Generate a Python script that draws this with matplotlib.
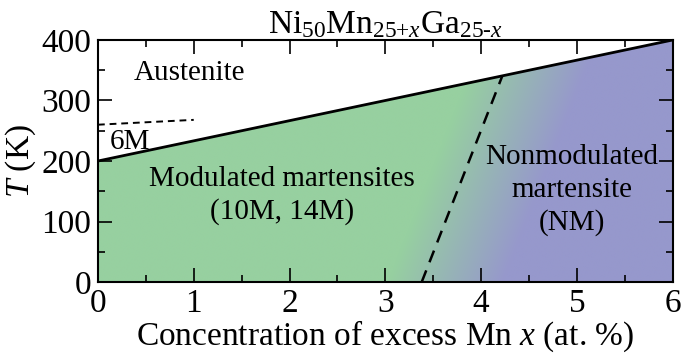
import numpy as np
import matplotlib
matplotlib.use("Agg")
import matplotlib.pyplot as plt
from matplotlib.patches import Polygon

plt.rcParams['font.family'] = ['Liberation Serif', 'DejaVu Serif']
plt.rcParams['mathtext.fontset'] = 'custom'
plt.rcParams['mathtext.rm'] = 'Liberation Serif'
plt.rcParams['mathtext.it'] = 'Liberation Serif:italic'

# phase boundaries
ms_x = [0, 6]          # martensite start line
ms_T = [200, 400]
nm_x = [3.38, 4.22]    # modulated / nonmodulated boundary
nm_T = [0, 340]
m6_x = [0, 1]          # 6M boundary
m6_T = [260, 268]

green = np.array([0x97, 0xD0, 0xA0]) / 255
blue = np.array([0x96, 0x98, 0xCC]) / 255

fig, ax = plt.subplots(figsize=(6.85, 3.57), dpi=100)
fig.subplots_adjust(left=0.143, right=0.982, bottom=0.21, top=0.888)

# gradient fill below the transition line
xx, TT = np.meshgrid(np.linspace(0, 6, 600), np.linspace(0, 400, 400))
xb = nm_x[0] + (nm_x[1] - nm_x[0]) * TT / nm_T[1]
f = np.clip((xx - (xb + 0.25)) / 1.2 + 0.5, 0, 1)
img = green[None, None, :] * (1 - f[..., None]) + blue[None, None, :] * f[..., None]
im = ax.imshow(img, extent=(0, 6, 0, 400), origin='lower', aspect='auto', zorder=0)
poly = Polygon([(0, 0), (ms_x[0], ms_T[0]), (ms_x[1], ms_T[1]), (6, 0)],
               closed=True, transform=ax.transData, facecolor='none', edgecolor='none')
ax.add_patch(poly)
im.set_clip_path(poly)

ax.plot(ms_x, ms_T, color='black', lw=2, zorder=3)
ax.plot(nm_x, nm_T, color='black', lw=1.8, ls=(0, (5, 3.5)), zorder=3)
ax.plot(m6_x, m6_T, color='black', lw=1.4, ls=(0, (3.5, 2.5)), zorder=3)

fs = 21
ax.text(0.96, 345, 'Austenite', ha='center', va='center', fontsize=fs)
ax.text(0.33, 232, '6M', ha='center', va='center', fontsize=fs)
ax.text(1.92, 170, 'Modulated martensites', ha='center', va='center', fontsize=fs)
ax.text(1.92, 116, '(10M, 14M)', ha='center', va='center', fontsize=fs)
ax.text(4.95, 207, 'Nonmodulated', ha='center', va='center', fontsize=fs)
ax.text(4.95, 152, 'martensite', ha='center', va='center', fontsize=fs)
ax.text(4.95, 98, '(NM)', ha='center', va='center', fontsize=fs)

ax.set_xlim(0, 6)
ax.set_ylim(0, 400)
ax.set_xticks(np.arange(0, 7, 1))
ax.set_xticks(np.arange(0.5, 6, 1), minor=True)
ax.set_yticks(np.arange(0, 401, 100))
ax.set_yticks(np.arange(50, 400, 100), minor=True)
ax.tick_params(which='both', direction='in', top=True, right=True, width=1.2,
               labelsize=24, pad=5)
ax.tick_params(which='major', length=10)
ax.tick_params(which='minor', length=5)
for s in ax.spines.values():
    s.set_linewidth(1.5)

ax.set_xlabel(r'Concentration of excess Mn $x$ (at. %)', fontsize=24, labelpad=-1)
ax.set_ylabel(r'$T$ (K)', fontsize=24, labelpad=2)
ax.set_title(r'Ni$_{50}$Mn$_{25{+}x}$Ga$_{25\text{-}x}$', fontsize=24, pad=2)

fig.savefig('out.png', dpi=100)
